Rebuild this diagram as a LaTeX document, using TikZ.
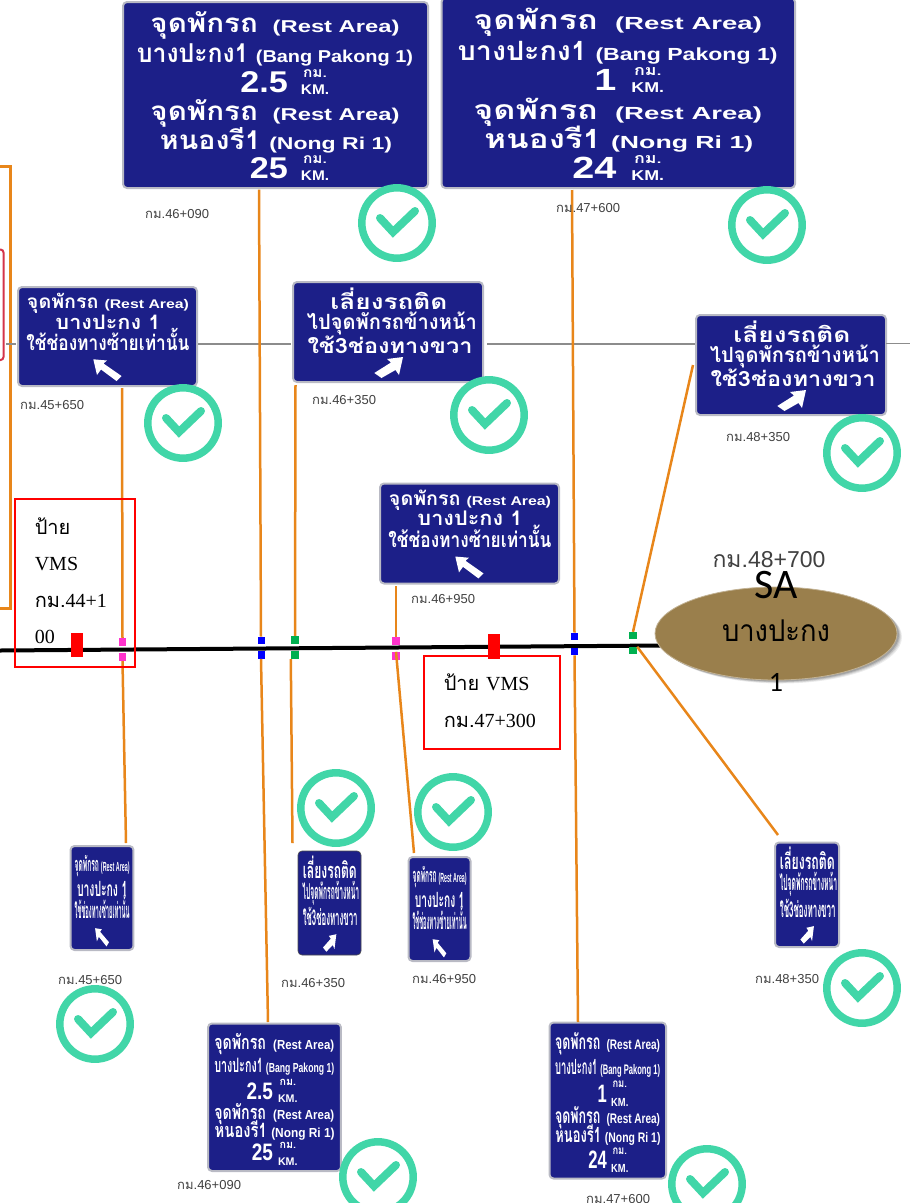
\documentclass[tikz,border=0pt]{standalone}
\usepackage{graphicx}
\usepackage{fontspec}
\usetikzlibrary{shapes.geometric}
\setmainfont{Liberation Serif}
\newfontfamily\thai[Script=Thai]{Loma}
\newfontfamily\lsans{Liberation Sans}
\newfontfamily\carl{Carlito}
\definecolor{signblue}{HTML}{1C1F88}
\definecolor{signedge}{HTML}{B9BAC4}
\definecolor{wire}{HTML}{E8861A}
\definecolor{okgreen}{HTML}{41D6A8}
\definecolor{mkblue}{HTML}{0000FF}
\definecolor{mkpink}{HTML}{FF33CC}
\definecolor{mkgreen}{HTML}{00B050}
\definecolor{kmgrey}{HTML}{404040}
\definecolor{sabrown}{HTML}{9A7F4C}
\definecolor{crimson}{HTML}{D4344A}
\newcommand{\fitline}[6]{\node[signtext] (#1) at (#2,#3) {\resizebox*{#4pt}{#5pt}{\rule[-2pt]{0pt}{10pt}\smash{#6}}};}
\newcommand{\tb}[1]{{\thai\bfseries #1}}
\newcommand{\lat}[1]{\scalebox{1.22}[1]{\lsans\bfseries\fontsize{6.6}{7}\selectfont #1}}
\newcommand{\twowide}{\def\wA{249}\def\wB{276}\def\wE{232}\def\cA{23}\def\cB{53}\def\cC{80}\def\cD{111}\def\cE{140}\def\cF{166}\def\uA{72}\def\uB{88}\def\uC{158}\def\uD{174}\def\numsc{1.14}\def\numgap{27}\def\hA{26}\def\unsc{1.1}}
\newcommand{\twotall}{\def\wA{275}\def\wB{275}\def\wE{275}\def\cA{25}\def\cB{54}\def\cC{85}\def\cD{113}\def\cE{136}\def\cF{163}\def\uA{74}\def\uB{95}\def\uC{154}\def\uD{174}\def\numsc{1.45}\def\numgap{34}\def\hA{25}\def\unsc{1.75}}
% name x y w h num1 num2 unit-x layout
\newcommand{\twosign}[9]{\begin{scope}[shift={(#2,#3)},xscale=#4/305,yscale=#5/186,transform shape]
#9
\node[plate,minimum width=305pt,minimum height=186pt] (#1) at (0,0) {};
\fitline{#1a}{152}{\cA}{\wA}{\hA}{\tb{จุดพักรถ}\hspace{5pt}\lat{(Rest Area)}}
\fitline{#1b}{152}{\cB}{\wB}{\hA}{\tb{บางปะกง1}\hspace{3pt}\lat{(Bang Pakong 1)}}
\node[signtext,anchor=east] (#1c) at (#8-\numgap,\cC) {\scalebox{\numsc}[1]{\lsans\bfseries\fontsize{30}{30}\selectfont #6}};
\node[signtext] (#1cu) at (#8,\uA) {\scalebox{\unsc}[1]{\thai\bfseries\fontsize{14}{14}\selectfont กม.}};
\node[signtext] (#1cv) at (#8,\uB) {\scalebox{\unsc}[1]{\lsans\bfseries\fontsize{14}{14}\selectfont KM.}};
\fitline{#1d}{152}{\cD}{\wA}{\hA}{\tb{จุดพักรถ}\hspace{5pt}\lat{(Rest Area)}}
\fitline{#1e}{153}{\cE}{\wE}{\hA}{\tb{หนองรี1}\hspace{3pt}\lat{(Nong Ri 1)}}
\node[signtext,anchor=east] (#1f) at (#8-\numgap,\cF) {\scalebox{\numsc}[1]{\lsans\bfseries\fontsize{30}{30}\selectfont #7}};
\node[signtext] (#1fu) at (#8,\uC) {\scalebox{\unsc}[1]{\thai\bfseries\fontsize{14}{14}\selectfont กม.}};
\node[signtext] (#1fv) at (#8,\uD) {\scalebox{\unsc}[1]{\lsans\bfseries\fontsize{14}{14}\selectfont KM.}};
\end{scope}}
\newcommand{\restwide}{\def\wA{162}\def\wB{105}\def\wC{163}\def\cA{16}\def\cB{36}\def\cC{57}\def\cD{82}\def\arX{1}\def\arY{1}}
\newcommand{\resttall}{\def\wA{156}\def\wB{143}\def\wC{156}\def\cA{19}\def\cB{42}\def\cC{63}\def\cD{86}\def\arX{1.4}\def\arY{.8}}
\newcommand{\restsign}[6]{\begin{scope}[shift={(#2,#3)},xscale=#4/179,yscale=#5/99,transform shape]
#6
\node[plate,minimum width=179pt,minimum height=99pt] (#1) at (0,0) {};
\fitline{#1a}{90}{\cA}{\wA}{19}{\tb{จุดพักรถ}\hspace{3pt}\lat{(Rest Area)}}
\fitline{#1b}{90}{\cB}{\wB}{20}{\tb{บางปะกง 1}}
\fitline{#1c}{90}{\cC}{\wC}{21}{\tb{ใช้ช่องทางซ้ายเท่านั้น}}
\fill[white,shift={(89,\cD)},xscale=\arX,yscale=\arY] (-13.7,-9.7)--(0,-8.5)--(-3.5,-5.5)--(14.5,7)--(9.5,12)--(-6,.5)--(-10,6)--cycle;
\end{scope}}
\newcommand{\detourwide}{\def\wA{117}\def\wB{170}\def\wC{165}\def\cA{21}\def\cB{41}\def\cC{65}\def\cD{85}\def\arX{1}\def\arY{1}}
\newcommand{\detourtall}{\def\wA{163}\def\wB{171}\def\wC{165}\def\cA{20}\def\cB{40}\def\cC{65}\def\cD{88}\def\arX{1.4}\def\arY{.8}}
\newcommand{\detoursign}[6]{\begin{scope}[shift={(#2,#3)},xscale=#4/190,yscale=#5/100,transform shape]
#6
\node[plate,minimum width=190pt,minimum height=100pt] (#1) at (0,0) {};
\fitline{#1a}{96}{\cA}{\wA}{21}{\tb{เลี่ยงรถติด}}
\fitline{#1b}{99}{\cB}{\wB}{21}{\tb{ไปจุดพักรถข้างหน้า}}
\fitline{#1c}{97}{\cC}{\wC}{21}{\tb{ใช้3ช่องทางขวา}}
\fill[white,shift={(96,\cD)},xscale=\arX,yscale=\arY] (14,-10)--(-2,-8)--(2,-4.5)--(-14.7,6)--(-7.5,11)--(6.5,3)--(10,8)--cycle;
\end{scope}}
\newcommand{\kmlabel}[4]{\node[kmtext] (#1) at (#2,#3) {{\thai กม.}#4};}
\tikzset{
  plate/.style={draw=signedge,fill=signblue,line width=2pt,rounded corners=4pt,anchor=north west,inner sep=0pt,outer sep=0pt},
  signtext/.style={inner sep=0pt,outer sep=0pt,text=white},
  kmtext/.style={anchor=west,inner sep=0pt,text=kmgrey,font=\lsans\fontsize{13}{13}\selectfont},
  wireline/.style={draw=wire,line width=2.5pt},
  greyline/.style={draw=black!45,line width=1.3pt},
  markblue/.style={fill=mkblue,inner sep=0pt,minimum width=7pt,minimum height=7.5pt},
  markpink/.style={fill=mkpink,inner sep=0pt,minimum width=7.5pt,minimum height=8pt},
  markgreen/.style={fill=mkgreen,inner sep=0pt,minimum width=8pt,minimum height=8pt},
  markred/.style={fill=red,inner sep=0pt,minimum width=12pt,minimum height=24.5pt},
  vmsbox/.style={draw=red,line width=1.6pt,anchor=north west,inner xsep=20pt,inner ysep=0pt,align=left,font=\fontsize{20}{36.5}\selectfont},
  okmark/.pic={
    \draw[okgreen,line width=7.5pt] (0,0) circle[radius=35.2pt];
    \draw[okgreen,line width=8pt,line cap=round,line join=miter] (-17,-5)--(-4,9)--(18,-12);
  }
}
\begin{document}
\begin{tikzpicture}[x=1pt,y=-1pt]
\useasboundingbox (0,0) rectangle (910,1203);
\clip (0,0) rectangle (910,1203);
% left edge frames
\draw[draw=wire,line width=2.5pt] (-5,166.5)--(10.5,166.5)--(10.5,608.5)--(-5,608.5);
\draw[draw=crimson,line width=2pt,rounded corners=3pt] (-8,249.5) rectangle (3.5,360);
% signs
\twosign{sa}{123}{2}{305}{186}{2.5}{25}{192}{\twowide}
\twosign{sb}{441.5}{-2}{353.5}{190}{1}{24}{178}{\twowide}
\restsign{sc}{18}{287}{179}{99}{\restwide}
\detoursign{sd}{293}{282}{190}{100}{\detourwide}
\restsign{se}{380}{483.5}{179}{100}{\restwide}
\detoursign{sf}{696}{315}{190}{100}{\detourwide}
\restsign{sg}{70.5}{846}{63}{104}{\resttall}
\begin{scope}[plate/.append style={draw=black!70,line width=.6pt}]
\detoursign{sh}{298}{851}{63}{104}{\detourtall}
\end{scope}
\restsign{si}{408.5}{857}{62}{104}{\resttall}
\detoursign{sj}{775}{842.5}{64}{104.5}{\detourtall}
\twosign{sk}{208}{1023.5}{133}{147.5}{2.5}{25}{183}{\twotall}
\twosign{sl}{549.5}{1022.5}{116.5}{156}{1}{24}{184}{\twotall}
% grey line
\coordinate (ga) at (6,344);
\coordinate (gb) at (291,344);
\coordinate (gc) at (487,344);
\coordinate (gd) at (695,344);
\coordinate (ge) at (886,343.5);
\coordinate (gf) at (910,343.5);
\coordinate (gg) at (198,344);
\coordinate (gh) at (16,344);
\draw[greyline] (ga)--(gh);
\draw[greyline] (gg)--(gb);
\draw[greyline] (gc)--(gd);
\draw[greyline] (ge)--(gf);
% road
\coordinate (roadw) at (0,650.5);
\coordinate (roade) at (662,645.5);
\draw[black,line width=4pt] (roadw)--(roade);
% markers
\node[markblue] (ma1) at (261,640.5) {};
\node[markblue] (ma2) at (261,655) {};
\node[markpink] (mb1) at (122.5,642) {};
\node[markpink] (mb2) at (122.5,657) {};
\node[markgreen] (mc1) at (295,640) {};
\node[markgreen] (mc2) at (295,655) {};
\node[markpink] (md1) at (396,641.3) {};
\node[markpink] (md2) at (396,656) {};
\node[markblue] (me1) at (574.5,636.5) {};
\node[markblue] (me2) at (574.5,651.5) {};
\node[markgreen,minimum height=7pt] (mf1) at (633,635.5) {};
\node[markgreen,minimum height=7pt] (mf2) at (633,650.5) {};
\node[markred] (ra) at (77,645) {};
\node[markred] (rb) at (494,646.5) {};
% connectors
\coordinate (wa) at (259,189.5);
\coordinate (wb) at (268,1022);
\coordinate (wc) at (122,388);
\coordinate (wd) at (126,843);
\coordinate (we) at (295.5,385);
\coordinate (wf) at (292.5,843);
\coordinate (wg) at (396,586);
\coordinate (wh) at (414,853);
\coordinate (wi) at (572,190);
\coordinate (wj) at (578,1022);
\coordinate (wk) at (693,365);
\coordinate (wl) at (778,835);
\draw[wireline] (wa)--(ma1.north);
\draw[wireline] (ma2.south)--(wb);
\draw[wireline] (wc)--(mb1.north);
\draw[wireline] (mb2.south)--(wd);
\draw[wireline] (we)--(mc1.north);
\draw[wireline] (mc2.south west)--(wf);
\draw[wireline] (wg)--(md1.north);
\draw[wireline] (md2.north)--(wh);
\draw[wireline] (wi)--(me1.north);
\draw[wireline] (me2.south)--(wj);
\draw[wireline] (wk)--(mf1.north);
\draw[wireline] (mf2.north east)--(wl);
% red boxes
\node[vmsbox,text width=80pt,minimum height=168pt] (vmsa) at (14,498) {{\thai ป้าย}\\VMS\\{\thai กม.}44+1\\00\rule[-4pt]{0pt}{1pt}};
\node[vmsbox,text width=96pt,minimum height=93pt] (vmsb) at (423,655) {{\thai ป้าย} VMS\\{\thai กม.}47+300\rule[-3pt]{0pt}{1pt}};
% SA
\foreach \o/\s in {5/.07,4/.09,3/.12,2/.15}
  \fill[black,opacity=\s] (776+\o,633.5+\o*.7) ellipse [x radius=121pt,y radius=46.5pt];
\node[ellipse,fill=sabrown,draw=sabrown!60!white,line width=.8pt,inner sep=0pt,minimum width=242pt,minimum height=93pt] (sanode) at (776,633.5) {};
\node[inner sep=0pt,text=kmgrey,font=\lsans\fontsize{23}{23}\selectfont] (sakm) at (769,560) {{\thai กม.}48+700};
\node[inner sep=0pt,font=\carl\fontsize{42}{42}\selectfont] (satop) at (776,585) {SA};
\node[inner sep=0pt] (samid) at (776,632) {\resizebox*{108pt}{30pt}{\rule[-2pt]{0pt}{10pt}\smash{\thai บางปะกง}}};
\node[inner sep=0pt,font=\carl\fontsize{28}{28}\selectfont] (sabot) at (776,682) {1};
% km labels
\kmlabel{ka}{145}{214}{46+090}
\kmlabel{kb}{556}{208}{47+600}
\kmlabel{kc}{20}{405}{45+650}
\kmlabel{kd}{312}{400}{46+350}
\kmlabel{ke}{726}{437}{48+350}
\kmlabel{kf}{411}{599}{46+950}
\kmlabel{kg}{58}{980}{45+650}
\kmlabel{kh}{281}{983}{46+350}
\kmlabel{ki}{412}{979}{46+950}
\kmlabel{kj}{755}{979}{48+350}
\kmlabel{kk}{177}{1185}{46+090}
\kmlabel{kl}{586}{1199}{47+600}
% check marks
\pic at (397,223) {okmark};
\pic at (767,225) {okmark};
\pic at (183,423) {okmark};
\pic at (489,415) {okmark};
\pic at (862,453) {okmark};
\pic at (336,808) {okmark};
\pic at (453,812) {okmark};
\pic at (862,988) {okmark};
\pic at (95,1024) {okmark};
\pic at (378,1177) {okmark};
\pic at (707,1184) {okmark};
\end{tikzpicture}
\end{document}
